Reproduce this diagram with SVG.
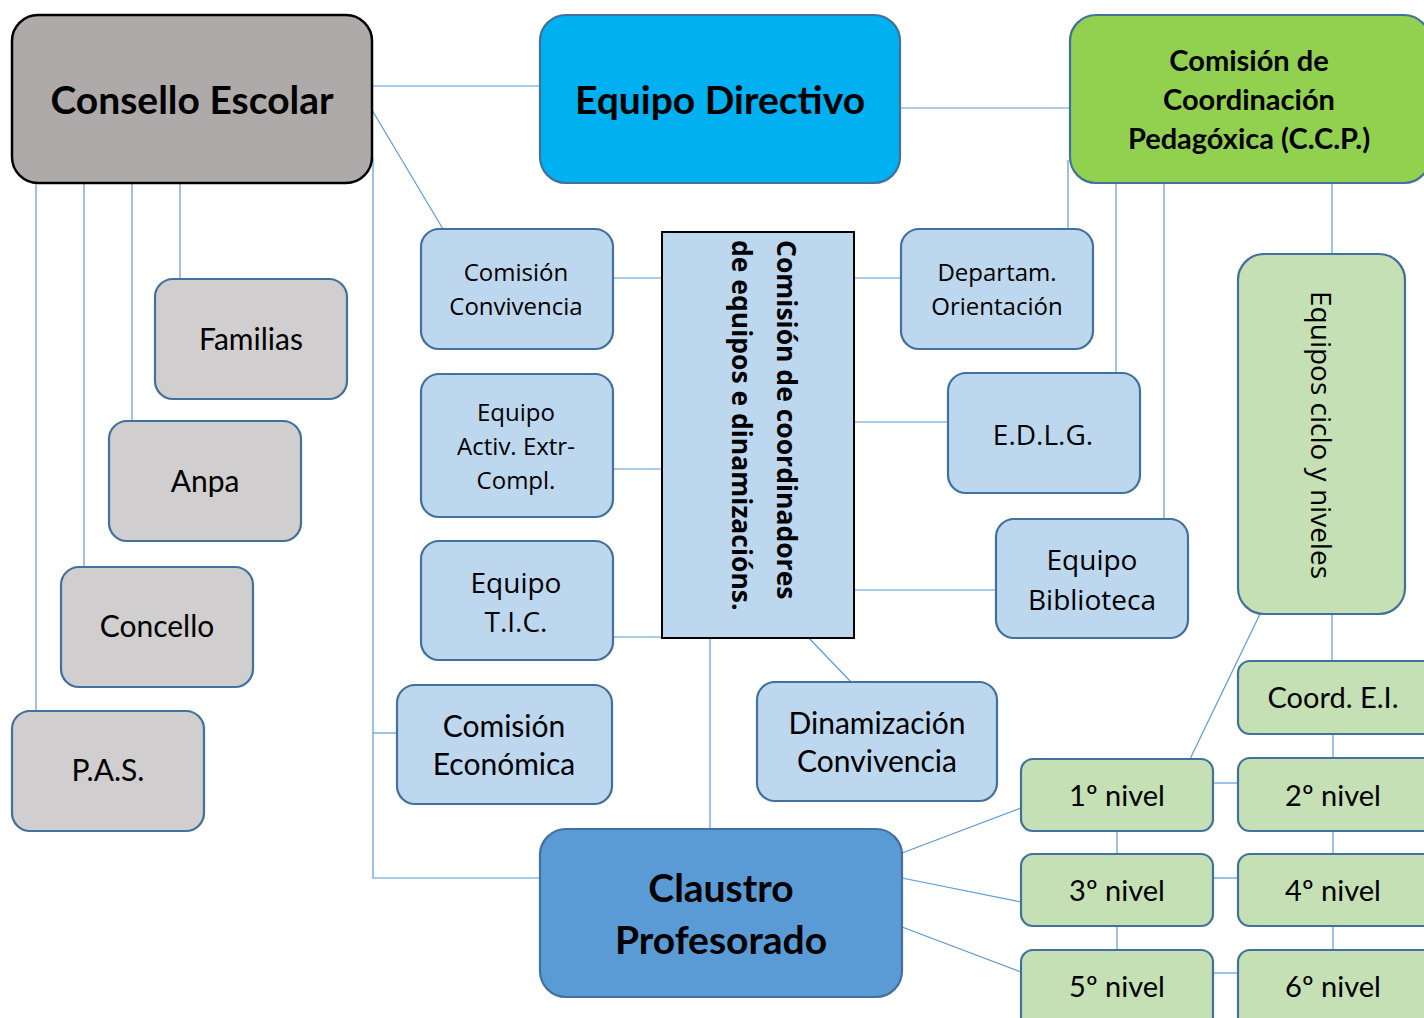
<svg xmlns="http://www.w3.org/2000/svg" width="1424" height="1018" viewBox="0 0 1424 1018">
<style>
.c{fill:none;stroke:#5B9BD5;stroke-width:1.2}
.n{stroke:#41719C;stroke-width:2.2}
.g{fill:#D0CECE}
.b{fill:#BDD7EE}
.gr{fill:#C5E0B4}
.t{font-family:Lato,"Liberation Sans",sans-serif;fill:#000;text-anchor:middle}
.s{font-family:"Open Sans","Liberation Sans",sans-serif;fill:#000;text-anchor:middle}
.big{font-size:39px;font-weight:bold}
.m{font-size:30px}
.om{font-size:28px}
.sm{font-size:24px}
.lv{font-size:29px}
</style>
<rect width="1424" height="1018" fill="#fff"/>
<g id="connectors">
<line class="c" x1="372" y1="86" x2="540" y2="86"/>
<line class="c" x1="900" y1="108" x2="1070" y2="108"/>
<line class="c" x1="372" y1="110" x2="443" y2="229"/>
<polyline class="c" points="373,158 373,878 540,878"/>
<line class="c" x1="373" y1="733" x2="397" y2="733"/>
<line class="c" x1="36" y1="183" x2="36" y2="711"/>
<line class="c" x1="84" y1="183" x2="84" y2="567"/>
<line class="c" x1="132" y1="183" x2="132" y2="421"/>
<line class="c" x1="180" y1="183" x2="180" y2="279"/>
<line class="c" x1="613" y1="278" x2="662" y2="278"/>
<line class="c" x1="613" y1="469" x2="662" y2="469"/>
<line class="c" x1="613" y1="637" x2="662" y2="637"/>
<line class="c" x1="854" y1="278" x2="901" y2="278"/>
<line class="c" x1="854" y1="422" x2="948" y2="422"/>
<line class="c" x1="854" y1="590" x2="996" y2="590"/>
<line class="c" x1="710" y1="638" x2="710" y2="829"/>
<line class="c" x1="805" y1="634" x2="851" y2="682"/>
<line class="c" x1="1068" y1="160" x2="1068" y2="229"/>
<line class="c" x1="1116" y1="183" x2="1116" y2="373"/>
<line class="c" x1="1164" y1="183" x2="1164" y2="519"/>
<line class="c" x1="1332" y1="183" x2="1332" y2="254"/>
<line class="c" x1="1332" y1="614" x2="1332" y2="661"/>
<line class="c" x1="1260" y1="614" x2="1190" y2="759"/>
<line class="c" x1="1333" y1="734" x2="1333" y2="758"/>
<line class="c" x1="1213" y1="783" x2="1238" y2="783"/>
<line class="c" x1="1213" y1="878" x2="1238" y2="878"/>
<line class="c" x1="1213" y1="973" x2="1238" y2="973"/>
<line class="c" x1="1117" y1="831" x2="1117" y2="854"/>
<line class="c" x1="1117" y1="926" x2="1117" y2="950"/>
<line class="c" x1="1333" y1="831" x2="1333" y2="854"/>
<line class="c" x1="1333" y1="926" x2="1333" y2="950"/>
<line class="c" x1="902" y1="853" x2="1021" y2="808"/>
<line class="c" x1="902" y1="878" x2="1021" y2="902"/>
<line class="c" x1="902" y1="927" x2="1021" y2="972"/>
</g>
<g id="consello-escolar">
<rect x="12" y="15" width="360" height="168" rx="26" fill="#AEAAAA" stroke="#000" stroke-width="2.5"/>
<text class="t big" x="192" y="114">Consello Escolar</text>
</g>
<g id="equipo-directivo">
<rect class="n" x="540" y="15" width="360" height="168" rx="26" fill="#00B0F0"/>
<text class="t big" x="720" y="114">Equipo Directivo</text>
</g>
<g id="ccp">
<rect class="n" x="1070" y="15" width="360" height="168" rx="26" fill="#92D050"/>
<text class="t" font-size="29" font-weight="bold" x="1249" y="71">Comisión de</text>
<text class="t" font-size="29" font-weight="bold" x="1249" y="110">Coordinación</text>
<text class="t" font-size="29" font-weight="bold" x="1249" y="149">Pedagóxica (C.C.P.)</text>
</g>
<g id="familias">
<rect class="n g" x="155" y="279" width="192" height="120" rx="18"/>
<text class="t m" x="251" y="350">Familias</text>
</g>
<g id="anpa">
<rect class="n g" x="109" y="421" width="192" height="120" rx="18"/>
<text class="t m" x="205" y="492">Anpa</text>
</g>
<g id="concello">
<rect class="n g" x="61" y="567" width="192" height="120" rx="18"/>
<text class="t m" x="157" y="637">Concello</text>
</g>
<g id="pas">
<rect class="n g" x="12" y="711" width="192" height="120" rx="18"/>
<text class="t m" x="108" y="781">P.A.S.</text>
</g>
<g id="comision-convivencia">
<rect class="n b" x="421" y="229" width="192" height="120" rx="18"/>
<text class="s sm" x="516" y="281">Comisión</text>
<text class="s sm" x="516" y="315">Convivencia</text>
</g>
<g id="equipo-activ">
<rect class="n b" x="421" y="374" width="192" height="143" rx="18"/>
<text class="s sm" x="516" y="421">Equipo</text>
<text class="s sm" x="516" y="455">Activ. Extr-</text>
<text class="s sm" x="516" y="489">Compl.</text>
</g>
<g id="equipo-tic">
<rect class="n b" x="421" y="541" width="192" height="119" rx="18"/>
<text class="s om" x="516" y="593">Equipo</text>
<text class="s om" x="516" y="632">T.I.C.</text>
</g>
<g id="comision-economica">
<rect class="n b" x="397" y="685" width="215" height="119" rx="18"/>
<text class="t m" x="504" y="737">Comisión</text>
<text class="t m" x="504" y="775">Económica</text>
</g>
<g id="comision-coordinadores">
<rect x="662" y="232" width="192" height="406" fill="#BDD7EE" stroke="#000" stroke-width="2"/>
<g transform="translate(777,240) rotate(90)">
<text font-family="'Open Sans','Liberation Sans',sans-serif" font-size="26.5" font-weight="bold" x="0" y="0">Comisión de coordinadores</text>
<text font-family="'Open Sans','Liberation Sans',sans-serif" font-size="26.5" font-weight="bold" x="0" y="45">de equipos e dinamizacións.</text>
</g>
</g>
<g id="departam-orientacion">
<rect class="n b" x="901" y="229" width="192" height="120" rx="18"/>
<text class="s sm" x="997" y="281">Departam.</text>
<text class="s sm" x="997" y="315">Orientación</text>
</g>
<g id="edlg">
<rect class="n b" x="948" y="373" width="192" height="120" rx="18"/>
<text class="s om" x="1043" y="445">E.D.L.G.</text>
</g>
<g id="equipo-biblioteca">
<rect class="n b" x="996" y="519" width="192" height="119" rx="18"/>
<text class="s om" x="1092" y="570">Equipo</text>
<text class="s om" x="1092" y="610">Biblioteca</text>
</g>
<g id="dinamizacion-convivencia">
<rect class="n b" x="757" y="682" width="240" height="119" rx="18"/>
<text class="t m" x="877" y="734">Dinamización</text>
<text class="t m" x="877" y="772">Convivencia</text>
</g>
<g id="equipos-ciclo">
<rect class="n gr" x="1238" y="254" width="167" height="360" rx="26"/>
<g transform="translate(1311,435) rotate(90)">
<text class="s" font-size="28" x="0" y="0">Equipos ciclo y niveles</text>
</g>
</g>
<g id="coord-ei">
<rect class="n gr" x="1238" y="661" width="200" height="73" rx="12"/>
<text class="t lv" x="1333" y="708">Coord. E.I.</text>
</g>
<g id="nivel-1">
<rect class="n gr" x="1021" y="759" width="192" height="72" rx="12"/>
<text class="t lv" x="1117" y="806">1º nivel</text>
</g>
<g id="nivel-2">
<rect class="n gr" x="1238" y="758" width="200" height="73" rx="12"/>
<text class="t lv" x="1333" y="806">2º nivel</text>
</g>
<g id="nivel-3">
<rect class="n gr" x="1021" y="854" width="192" height="72" rx="12"/>
<text class="t lv" x="1117" y="901">3º nivel</text>
</g>
<g id="nivel-4">
<rect class="n gr" x="1238" y="854" width="200" height="72" rx="12"/>
<text class="t lv" x="1333" y="901">4º nivel</text>
</g>
<g id="nivel-5">
<rect class="n gr" x="1021" y="950" width="192" height="80" rx="12"/>
<text class="t lv" x="1117" y="997">5º nivel</text>
</g>
<g id="nivel-6">
<rect class="n gr" x="1238" y="950" width="200" height="80" rx="12"/>
<text class="t lv" x="1333" y="997">6º nivel</text>
</g>
<g id="claustro-profesorado">
<rect class="n" x="540" y="829" width="362" height="168" rx="26" fill="#5B9BD5"/>
<text class="t big" x="721" y="902">Claustro</text>
<text class="t big" x="721" y="954">Profesorado</text>
</g>
</svg>
